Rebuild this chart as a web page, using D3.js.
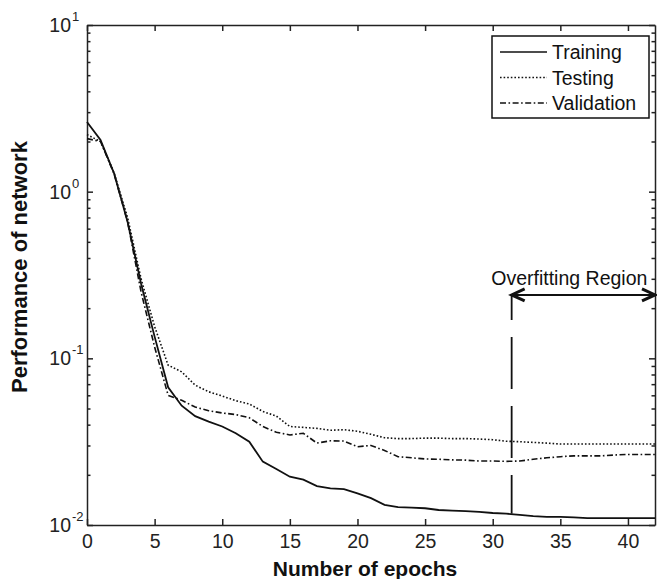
<!DOCTYPE html>
<meta charset="utf-8">
<style>
  body { margin: 0; background: #fff; font-family: "Liberation Sans", Arial, sans-serif; }
  .axis path, .axis line { fill: none; stroke: #222; stroke-width: 1.5; }
  .axis text { fill: #222; font-size: 19.5px; font-family: "Liberation Sans", Arial, sans-serif; }
  .series { fill: none; stroke: #111; }
  .title { font-weight: bold; font-size: 21px; fill: #111; }
</style>
<body>
<script src="https://d3js.org/d3.v7.min.js"></script>
<script>
var epochs = d3.range(0, 43);

var training = [2.62, 2.04, 1.29, 0.66, 0.28, 0.135, 0.067, 0.052, 0.045, 0.0417,
  0.039, 0.0355, 0.0316, 0.024, 0.0217, 0.0195, 0.0187, 0.0171, 0.0166, 0.0164,
  0.0155, 0.0145, 0.0132, 0.0128, 0.0127, 0.0126, 0.0123, 0.0122, 0.0121, 0.012,
  0.0118, 0.0117, 0.0115, 0.0113, 0.0112, 0.0112, 0.0111, 0.011, 0.011, 0.011,
  0.011, 0.011, 0.011];

var testing = [2.2, 2.0, 1.3, 0.7, 0.3, 0.155, 0.091, 0.083, 0.069, 0.063,
  0.0594, 0.0557, 0.0532, 0.048, 0.045, 0.039, 0.0385, 0.038, 0.037, 0.0373,
  0.0365, 0.035, 0.0334, 0.033, 0.033, 0.0332, 0.0332, 0.033, 0.033, 0.0328,
  0.0325, 0.0318, 0.0316, 0.0313, 0.031, 0.0306, 0.0306, 0.0306, 0.0306, 0.0306,
  0.0306, 0.0306, 0.0306];

var validation = [2.08, 2.0, 1.28, 0.66, 0.25, 0.117, 0.06, 0.056, 0.051, 0.0485,
  0.047, 0.046, 0.044, 0.039, 0.036, 0.0347, 0.0355, 0.031, 0.032, 0.0319,
  0.0295, 0.03, 0.028, 0.0257, 0.0253, 0.0249, 0.0248, 0.0246, 0.0245, 0.0242,
  0.0242, 0.0241, 0.0242, 0.0248, 0.0253, 0.0257, 0.026, 0.026, 0.026, 0.0263,
  0.0265, 0.0265, 0.0265];

var seriesNames = ["Training", "Testing", "Validation"];
var xTicks = [0, 5, 10, 15, 20, 25, 30, 35, 40];
var yTicks = [0.01, 0.1, 1, 10];
var yTickExp = ["-2", "-1", "0", "1"];

// overfitting annotation (epoch where region starts, arrow level)
var overfitEpoch = 31.4;
var arrowLevel = 0.24;

var dashes = { Training: null, Testing: "1.6,2", Validation: "6,2.5,1.6,2.5" };

var W = 657, H = 579;
var margin = { top: 25, right: 2, bottom: 54, left: 87 };
var width = W - margin.left - margin.right,
    height = H - margin.top - margin.bottom;

var svg = d3.select("body").append("svg")
    .attr("width", W)
    .attr("height", H);

var g = svg.append("g")
    .attr("transform", "translate(" + margin.left + "," + margin.top + ")");

var x = d3.scaleLinear().domain([0, 42]).range([0, width]);
var y = d3.scaleLog().domain([0.01, 10]).range([height, 0]);

// minor log ticks
var minor = [];
[0.01, 0.1, 1].forEach(function(d) {
  for (var k = 2; k <= 9; k++) minor.push(d * k);
});

// axes, ticks inward on all sides
g.append("g").attr("class", "axis")
  .attr("transform", "translate(0," + height + ")")
  .call(d3.axisBottom(x).tickValues(xTicks).tickSizeInner(-6).tickSizeOuter(0).tickPadding(9).tickFormat(d3.format("d")));

g.append("g").attr("class", "axis")
  .call(d3.axisTop(x).tickValues(xTicks).tickSizeInner(-6).tickSizeOuter(0).tickFormat(""));

g.append("g").attr("class", "axis")
  .call(d3.axisLeft(y).tickValues(yTicks).tickSizeInner(-6).tickSizeOuter(0).tickFormat(""));
g.append("g").attr("class", "axis")
  .call(d3.axisLeft(y).tickValues(minor).tickSizeInner(-3.5).tickSizeOuter(0).tickFormat(""))
  .select(".domain").remove();

g.append("g").attr("class", "axis")
  .attr("transform", "translate(" + width + ",0)")
  .call(d3.axisRight(y).tickValues(yTicks).tickSizeInner(-6).tickSizeOuter(0).tickFormat(""));
g.append("g").attr("class", "axis")
  .attr("transform", "translate(" + width + ",0)")
  .call(d3.axisRight(y).tickValues(minor).tickSizeInner(-3.5).tickSizeOuter(0).tickFormat(""))
  .select(".domain").remove();

// y tick labels 10^n
var ylab = g.append("g").attr("class", "axis");
yTicks.forEach(function(v, i) {
  ylab.append("text")
    .attr("x", -16).attr("y", y(v)).attr("dy", "0.36em")
    .attr("text-anchor", "end")
    .text("10");
  ylab.append("text")
    .attr("x", -15).attr("y", y(v) - 4)
    .style("font-size", "13px")
    .text(yTickExp[i]);
});

// series lines
var line = d3.line()
  .x(function(d) { return x(d[0]); })
  .y(function(d) { return y(d[1]); });

var seriesData = { Training: training, Testing: testing, Validation: validation };

seriesNames.forEach(function(name) {
  g.append("path")
    .attr("class", "series")
    .attr("d", line(epochs.map(function(e, i) { return [e, seriesData[name][i]]; })))
    .style("stroke-width", name === "Training" ? 1.8 : 1.6)
    .style("stroke-dasharray", dashes[name]);
});

// overfitting region annotation
var ox = x(overfitEpoch), ay = y(arrowLevel);
g.append("line")
  .attr("x1", ox).attr("x2", ox)
  .attr("y1", ay).attr("y2", y(training[31]))
  .style("stroke", "#111").style("stroke-width", 1.8)
  .style("stroke-dasharray", "52,17").style("stroke-dashoffset", 27);

g.append("line")
  .attr("x1", ox).attr("x2", width)
  .attr("y1", ay).attr("y2", ay)
  .style("stroke", "#111").style("stroke-width", 2);

[[ox, 1], [width, -1]].forEach(function(a) {
  g.append("path")
    .attr("d", "M" + (a[0] + a[1] * 13) + "," + (ay - 6) + "L" + a[0] + "," + ay + "L" + (a[0] + a[1] * 13) + "," + (ay + 6))
    .style("fill", "none").style("stroke", "#111").style("stroke-width", 3);
});

g.append("text")
  .attr("x", (ox + width) / 2 - 14).attr("y", ay - 10)
  .attr("text-anchor", "middle")
  .style("font-size", "19.5px").style("fill", "#111")
  .text("Overfitting Region");

// legend
var lg = g.append("g").attr("transform", "translate(" + (492 - margin.left) + "," + (36 - margin.top) + ")");
lg.append("rect")
  .attr("width", 157).attr("height", 82)
  .style("fill", "#fff").style("stroke", "#111").style("stroke-width", 1.5);

seriesNames.forEach(function(name, i) {
  var ly = 16 + i * 25.5;
  lg.append("line")
    .attr("x1", 8).attr("x2", 55).attr("y1", ly).attr("y2", ly)
    .style("stroke", "#111").style("stroke-width", 1.5)
    .style("stroke-dasharray", dashes[name]);
  lg.append("text")
    .attr("x", 60).attr("y", ly).attr("dy", "0.36em")
    .style("font-size", "19.5px").style("fill", "#111")
    .text(name);
});

// axis titles
svg.append("text")
  .attr("class", "title")
  .attr("x", 365).attr("y", 576)
  .attr("text-anchor", "middle")
  .text("Number of epochs");

svg.append("text")
  .attr("class", "title")
  .attr("transform", "translate(27,267) rotate(-90)")
  .attr("text-anchor", "middle")
  .style("font-size", "22px")
  .text("Performance of network");
</script>
</body>
